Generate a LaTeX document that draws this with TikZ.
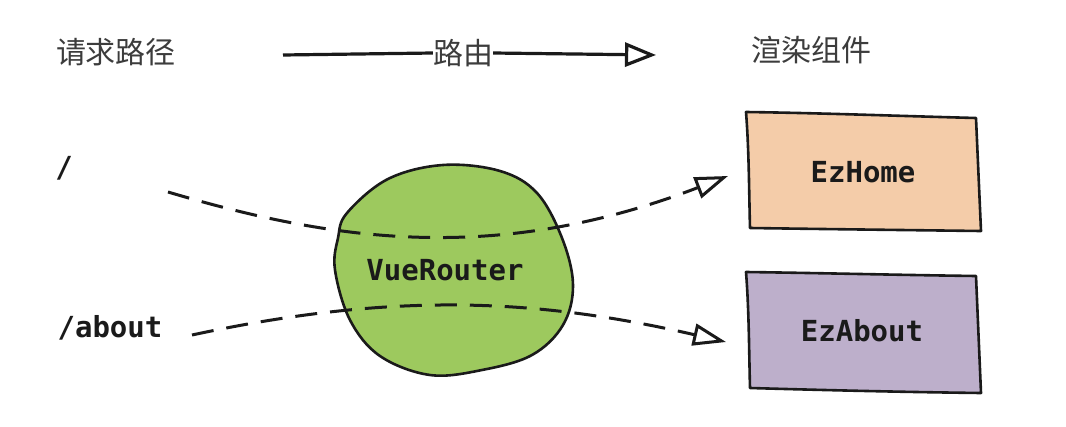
\documentclass[tikz,border=0pt]{standalone}
\usepackage{fontspec}
\newfontfamily\cjk{Noto Sans CJK SC}
\newfontfamily\mono{DejaVu Sans Mono}
\usetikzlibrary{arrows.meta}
\definecolor{blobgreen}{HTML}{9DC95E}
\definecolor{homefill}{HTML}{F4CCA9}
\definecolor{aboutfill}{HTML}{BDAFCB}
\definecolor{ink}{HTML}{1A1A1A}
\begin{document}
\begin{tikzpicture}[x=1pt,y=-1pt,
  cjklabel/.style={font=\cjk\fontsize{30}{32}\selectfont, text=ink!85, inner sep=0pt},
  monolabel/.style={font=\mono\bfseries\fontsize{29}{32}\selectfont, text=ink, inner sep=0pt},
  outline/.style={draw=ink, line width=2.6pt, line join=round},
  mainline/.style={draw=ink, line width=3.2pt},
  flow/.style={draw=ink, line width=3pt, dash pattern=on 22pt off 13pt,
    -{Triangle[open,length=33pt,width=22pt]}},
]
\useasboundingbox (0,0) rectangle (1066,426);
\fill[white] (0,0) rectangle (1066,426);

% headers
\node[cjklabel] (req) at (116,52) {请求路径};
\node[cjklabel] (route) at (463,53) {路由};
\node[cjklabel] (render) at (811,50) {渲染组件};
\coordinate (a0) at (283,55);
\coordinate (a1) at (656,55);
\draw[mainline] (a0) -- (route.west);
\draw[mainline, -{Triangle[open,length=31pt,width=24pt]}] (route.east) -- (a1);

% boxes
\draw[outline, fill=homefill] (746,112) .. controls (820,113) and (900,116) .. (976,118)
  -- (981,231) .. controls (900,230) and (820,229) .. (750,228)
  .. controls (749,190) and (749,150) .. cycle;
\draw[outline, fill=aboutfill] (746,272) .. controls (820,273) and (900,275) .. (976,276)
  -- (981,393) .. controls (900,392) and (820,390) .. (750,388)
  .. controls (749,350) and (749,310) .. cycle;
\node[monolabel] (home) at (863,172) {EzHome};
\node[monolabel] (about) at (862,331) {EzAbout};

% router blob
\draw[outline, fill=blobgreen] plot[smooth cycle, tension=0.6] coordinates {
  (347,213) (388,179) (443,165) (500,171) (537,193) (562,238) (573,285)
  (563,325) (532,355) (482,370) (430,375) (380,356) (350,320) (335,270) (338,238)};

% paths
\node[monolabel] (root) at (64,168) {/};
\node[monolabel] (aboutpath) at (110,328) {/about};
\coordinate (r0) at (168,192);
\coordinate (r1) at (728,176);
\coordinate (b0) at (192,335);
\coordinate (b1) at (726,342);
\draw[flow] (r0) .. controls (330,240) and (494,266) .. (r1);
\draw[flow] (b0) .. controls (388,293) and (531,297) .. (b1);

\node[monolabel] (router) at (445,270) {VueRouter};
\end{tikzpicture}
\end{document}
